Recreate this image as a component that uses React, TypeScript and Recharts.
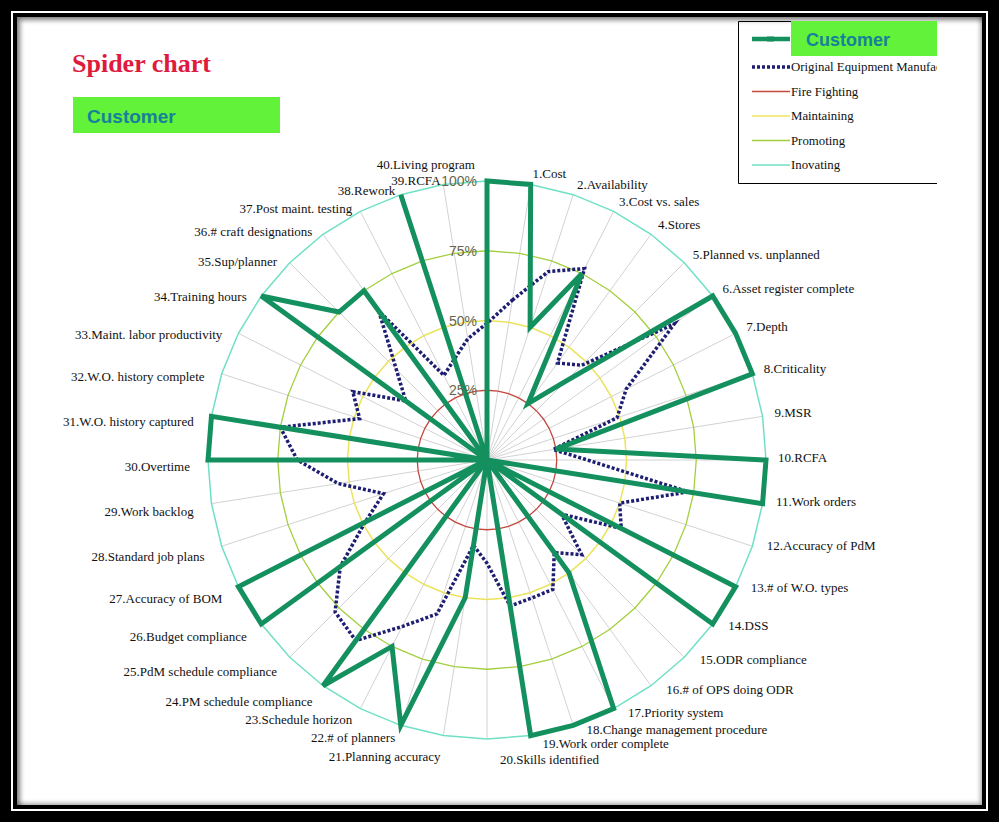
import React from 'react'
import { RadarChart, Radar, PolarGrid, PolarAngleAxis, PolarRadiusAxis } from 'recharts'

// categories run clockwise, 1.Cost one step right of 12 o'clock, 40 at the top
const categories = [
  '1.Cost', '2.Availability', '3.Cost vs. sales', '4.Stores', '5.Planned vs. unplanned',
  '6.Asset register complete', '7.Depth', '8.Criticality', '9.MSR', '10.RCFA',
  '11.Work orders', '12.Accuracy of PdM', '13.# of W.O. types', '14.DSS', '15.ODR compliance',
  '16.# of OPS doing ODR', '17.Priority system', '18.Change management procedure', '19.Work order complete', '20.Skills identified',
  '21.Planning accuracy', '22.# of planners', '23.Schedule horizon', '24.PM schedule compliance', '25.PdM schedule compliance',
  '26.Budget compliance', '27.Accuracy of BOM', '28.Standard job plans', '29.Work backlog', '30.Overtime',
  '31.W.O. history captured', '32.W.O. history complete', '33.Maint. labor productivity', '34.Training hours', '35.Sup/planner',
  '36.# craft designations', '37.Post maint. testing', '38.Rework', '39.RCFA', '40.Living program',
]

const customer = [
  100, 50, 75, 25, 40, 100, 100, 100, 25, 100,
  100, 0, 100, 100, 0, 50, 100, 100, 100, 0,
  50, 100, 75, 100, 0, 100, 100, 0, 0, 100,
  100, 0, 0, 100, 75, 75, 0, 100, 0, 100,
]

const oem = [
  58, 71, 77, 43, 48, 83, 56, 49, 24, 36,
  73, 50, 54, 33, 48, 41, 52, 52, 53, 37,
  31, 58, 67, 80, 77, 65, 49, 39, 54, 68,
  75, 48, 54, 36, 46, 66, 34, 38, 44, 49,
]

// reference levels drawn as rings
const fireFightingLevel = 25
const maintainingLevel = 50
const promotingLevel = 75
const inovatingLevel = 100

const radiusTicks = [0, 25, 50, 75, 100]

const data = categories.map((name, i) => ({
  name,
  customer: customer[i],
  oem: oem[i],
  fire: fireFightingLevel,
  maintain: maintainingLevel,
  promote: promotingLevel,
  inovate: inovatingLevel,
}))

const CX = 487
const CY = 460
const R = 279
const START = 81

const GREEN = '#14905f'
const NAVY = '#1d1d72'
const RED = '#c4483e'
const YELLOW = '#ece35c'
const YGREEN = '#a2cf3e'
const CYAN = '#6fe0c6'
const LIME = '#62f23a'
const TEAL = '#17809a'

const serif = "'Liberation Serif', 'Times New Roman', serif"
const sans = "'Liberation Sans', Arial, sans-serif"

function AngleTick(props: any) {
  const { payload, index } = props
  const coord = typeof payload?.coordinate === 'number' ? payload.coordinate : START - index * 9
  const rad = (coord * Math.PI) / 180
  const cos = Math.cos(rad)
  const sin = Math.sin(rad)
  const ac = Math.abs(cos)
  let anchor: 'start' | 'end' = 'start'
  let x: number
  let y: number
  if (ac < 0.01) {
    // labels straight above / below the centre sit beside the spoke
    if (sin > 0) {
      anchor = 'end'
      x = CX - 12
      y = CY - R - 16
    } else {
      x = CX + 13
      y = CY + R + 21
    }
  } else if (cos > 0) {
    const r = R + 12
    x = CX + r * cos + 10 * Math.max(0, -sin)
    y = CY - r * sin - 2.5 + 4 * sin
    if (sin < 0 && ac < 0.2) y += 3
  } else {
    anchor = 'end'
    const r = R + 18
    x = CX + r * cos
    y = CY - r * sin + 7 + 7 * sin
    // spread the crowded labels near the bottom
    if (sin < 0 && ac < 0.2) y += 4
    else if (sin < 0 && ac < 0.5) y -= 5
  }
  return (
    <text x={x} y={y} dy={4} textAnchor={anchor} fontSize={13} fontFamily={serif} fill="#111">
      {payload.value}
    </text>
  )
}

function RadiusTick(props: any) {
  const { x, y, payload } = props
  if (!payload || Number(payload.value) === 0) return <g />
  return (
    <text x={x - 10} y={y} dy={5} textAnchor="end" fontSize={14} fontFamily={sans} fill="#66664f">
      {payload.value}%
    </text>
  )
}

const legendItems = [
  { label: 'Original Equipment Manufacturer', color: NAVY, width: 3.5, dash: '3 2' },
  { label: 'Fire Fighting', color: RED, width: 1.3 },
  { label: 'Maintaining', color: YELLOW, width: 1.5 },
  { label: 'Promoting', color: YGREEN, width: 1.3 },
  { label: 'Inovating', color: CYAN, width: 1.5 },
]

function Legend() {
  return (
    <svg width={199} height={164} style={{ position: 'absolute', left: 738, top: 21 }}>
      <path d="M0.5,0.5 H199 M0.5,0.5 V162.5 H199" stroke="#000" strokeWidth={1} fill="none" />
      <rect x={53} y={0} width={146} height={35} fill={LIME} />
      <line x1={14} y1={18} x2={52} y2={18} stroke={GREEN} strokeWidth={4.5} />
      <rect x={29} y={15.5} width={7} height={5} fill={GREEN} />
      <text x={68} y={24.5} fontSize={18} fontWeight="bold" fontFamily={sans} fill={TEAL}>
        Customer
      </text>
      {legendItems.map((item, i) => {
        const y = 46 + i * 24.5
        return (
          <g key={item.label}>
            <line x1={14} y1={y} x2={52} y2={y} stroke={item.color} strokeWidth={item.width} strokeDasharray={item.dash} />
            <text x={53} y={y + 4} fontSize={12.8} fontFamily={serif} fill="#111">
              {item.label}
            </text>
          </g>
        )
      })}
    </svg>
  )
}

export default function App() {
  return (
    <div style={{ position: 'absolute', left: 0, top: 0, width: 999, height: 822, background: '#000', overflow: 'hidden' }}>
      <div style={{ position: 'absolute', left: 11, top: 11, right: 11, bottom: 11, border: '2px solid #fff', background: '#000' }} />
      <div
        style={{
          position: 'absolute', left: 17, top: 17, right: 17, bottom: 17, background: '#fff',
          boxShadow: 'inset 3px 3px 5px rgba(0,0,0,0.5), inset -2px -2px 4px rgba(0,0,0,0.3)',
        }}
      />

      <div style={{ position: 'absolute', left: 0, top: 0 }}>
        <RadarChart
          width={999}
          height={822}
          cx={CX}
          cy={CY}
          outerRadius={R}
          startAngle={START}
          endAngle={START - 360}
          data={data}
          margin={{ top: 0, right: 0, bottom: 0, left: 0 }}
        >
          <PolarGrid gridType="circle" polarRadius={[]} stroke="#d2d2d2" strokeWidth={1} />
          <PolarAngleAxis dataKey="name" tick={AngleTick} axisLine={false} tickLine={false} />
          <PolarRadiusAxis angle={90} domain={[0, 100]} ticks={radiusTicks as any} tickCount={5} tick={RadiusTick} axisLine={false} tickLine={false} />
          <Radar name="Inovating" dataKey="inovate" stroke={CYAN} strokeWidth={1.5} fill="none" fillOpacity={0} dot={false} isAnimationActive={false} />
          <Radar name="Promoting" dataKey="promote" stroke={YGREEN} strokeWidth={1.3} fill="none" fillOpacity={0} dot={false} isAnimationActive={false} />
          <Radar name="Maintaining" dataKey="maintain" stroke={YELLOW} strokeWidth={1.5} fill="none" fillOpacity={0} dot={false} isAnimationActive={false} />
          <Radar name="Fire Fighting" dataKey="fire" stroke={RED} strokeWidth={1.3} fill="none" fillOpacity={0} dot={false} isAnimationActive={false} />
          <Radar name="Original Equipment Manufacturer" dataKey="oem" stroke={NAVY} strokeWidth={3.5} strokeDasharray="3 2" fill="none" fillOpacity={0} dot={false} isAnimationActive={false} />
          <Radar name="Customer" dataKey="customer" stroke={GREEN} strokeWidth={5} strokeLinejoin="miter" fill="none" fillOpacity={0} dot={false} isAnimationActive={false} />
        </RadarChart>
      </div>

      <svg width={300} height={140} style={{ position: 'absolute', left: 0, top: 0 }}>
        <text x={72} y={72} fontSize={26} fontWeight="bold" fontFamily={serif} fill="#e01a3c">
          Spider chart
        </text>
        <rect x={73} y={97} width={207} height={36} fill={LIME} />
        <text x={87} y={122.5} fontSize={19} fontWeight="bold" fontFamily={sans} fill={TEAL}>
          Customer
        </text>
      </svg>

      <Legend />
    </div>
  )
}
